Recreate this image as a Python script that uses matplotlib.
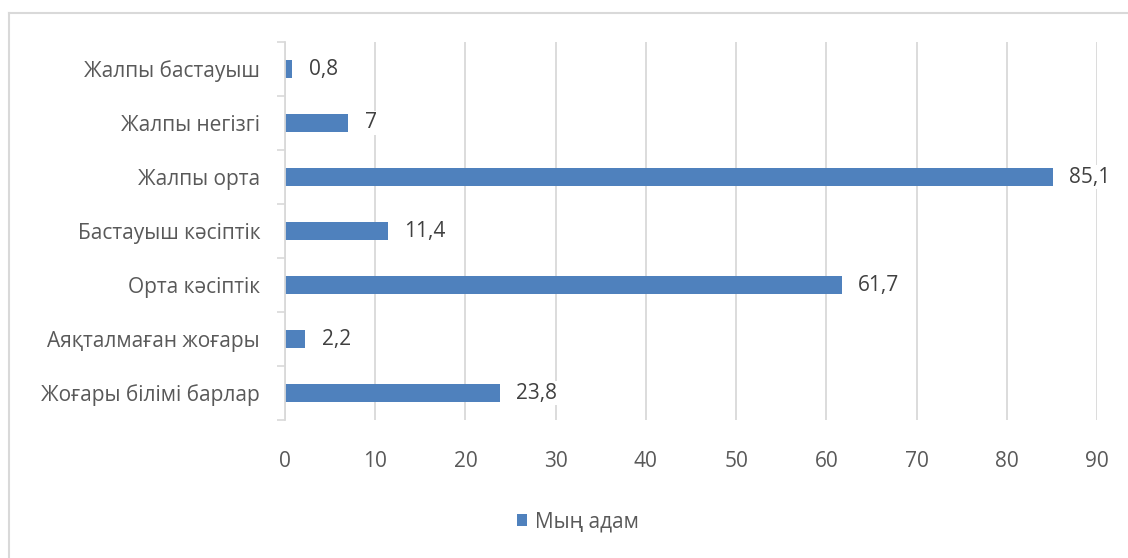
import matplotlib.pyplot as plt
from matplotlib.lines import Line2D

categories = ['Жоғары білімі барлар', 'Аяқталмаған жоғары', 'Орта кәсіптік',
              'Бастауыш кәсіптік', 'Жалпы орта', 'Жалпы негізгі', 'Жалпы бастауыш']
values = [23.8, 2.2, 61.7, 11.4, 85.1, 7, 0.8]
series_name = 'Мың адам'
xticks = [0, 10, 20, 30, 40, 50, 60, 70, 80, 90]

plt.rcParams['font.family'] = ['Open Sans', 'DejaVu Sans']
txt = '#595959'
grid = '#d9d9d9'
fs = 15

fig = plt.figure(figsize=(11.28, 5.58), dpi=100)
ax = fig.add_axes([285/1128, 1-420/558, 812/1128, 378/558])

y = list(range(len(categories)))
bars = ax.barh(y, values, height=0.33, color='#4f81bd', label=series_name, zorder=2)

for b, v in zip(bars, values):
    s = ('%g' % v).replace('.', ',')
    ax.annotate(s, (b.get_width(), b.get_y() + b.get_height()/2), xytext=(12, 0),
                textcoords='offset points', va='center', ha='left',
                fontsize=fs, color='#404040', zorder=3,
                bbox=dict(facecolor='white', edgecolor='none', pad=1))

ax.set_xlim(0, 90)
ax.set_ylim(-0.5, len(categories) - 0.5)
ax.set_xticks(xticks)
ax.set_xticklabels([str(t) for t in xticks])
ax.set_yticks(y)
ax.set_yticklabels(categories)
ax.set_yticks([i - 0.5 for i in range(len(categories) + 1)], minor=True)
ax.tick_params(axis='y', which='major', length=0, pad=18, labelsize=fs, labelcolor=txt)
ax.tick_params(axis='y', which='minor', length=6, color=grid, width=1.2)
ax.tick_params(axis='x', length=0, pad=22, labelsize=fs, labelcolor=txt)
ax.grid(axis='x', color=grid, linewidth=1.3, zorder=0)
for sp in ['top', 'right', 'bottom']:
    ax.spines[sp].set_visible(False)
ax.spines['left'].set_color(grid)
ax.spines['left'].set_linewidth(1.3)

leg = fig.legend(loc='center', bbox_to_anchor=(578/1128, 1-522/558), frameon=False,
                 fontsize=fs, handlelength=0.5, handleheight=0.5, handletextpad=0.4)
for t in leg.get_texts():
    t.set_color(txt)

# chart frame: only top and left edges are visible in the picture
top = 1 - 13/558
left = 9/1128
fig.lines.append(Line2D([left, 1], [top, top], transform=fig.transFigure, color=grid, lw=1.5))
fig.lines.append(Line2D([left, left], [0, top], transform=fig.transFigure, color=grid, lw=1.5))

fig.savefig('out.png', dpi=100)
